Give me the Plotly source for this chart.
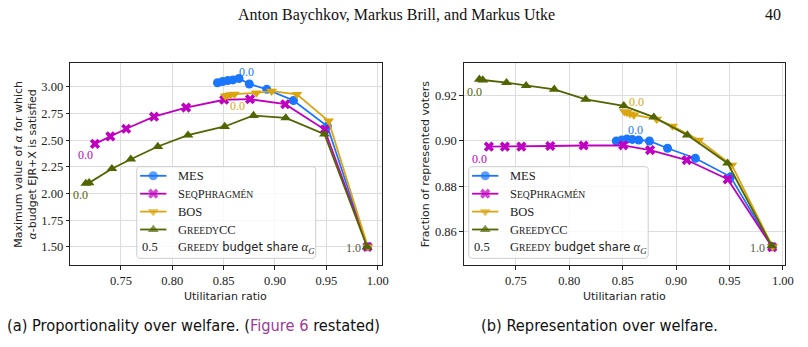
import numpy as np
import plotly.graph_objects as go

# ---------------- data ----------------
mes_x = [0.844, 0.849, 0.854, 0.859, 0.865, 0.875, 0.892, 0.918, 0.951, 0.990]
mes_ejr = [3.040, 3.051, 3.060, 3.066, 3.080, 3.028, 2.978, 2.873, 2.632, 1.50]
mes_rep = [0.9000, 0.9004, 0.9009, 0.9007, 0.9004, 0.9000, 0.8968, 0.8924, 0.8842, 0.8533]
mes_zero = 3

seq_x = [0.7247, 0.7397, 0.7551, 0.7822, 0.8134, 0.8505, 0.8757, 0.9100, 0.9483, 0.9900]
seq_ejr = [2.466, 2.536, 2.608, 2.721, 2.807, 2.880, 2.885, 2.838, 2.601, 1.50]
seq_rep = [0.8975, 0.8975, 0.8975, 0.8978, 0.8980, 0.8981, 0.8960, 0.8916, 0.8831, 0.8532]
seq_zero = 0

bos_x = [0.8516, 0.8540, 0.8570, 0.8605, 0.8818, 0.8967, 0.9213, 0.9522, 0.9904]
bos_ejr = [2.916, 2.922, 2.929, 2.932, 2.944, 2.960, 2.931, 2.681, 1.50]
bos_rep = [0.9129, 0.9126, 0.9120, 0.9115, 0.9096, 0.9066, 0.9004, 0.8894, 0.8533]
bos_zero = 0

gcc_x = [0.7158, 0.7190, 0.7412, 0.7596, 0.7859, 0.8153, 0.8510, 0.8791, 0.9105, 0.9482, 0.9896]
gcc_ejr = [2.095, 2.100, 2.233, 2.322, 2.441, 2.547, 2.629, 2.732, 2.709, 2.557, 1.50]
gcc_rep = [0.9272, 0.9269, 0.9257, 0.9244, 0.9228, 0.9184, 0.9155, 0.9105, 0.9026, 0.8902, 0.8537]
gcc_zero = 0

x_ticks = [0.75, 0.80, 0.85, 0.90, 0.95, 1.00]
x_ticklabels = ["0.75", "0.80", "0.85", "0.90", "0.95", "1.00"]
ejr_ticks = [1.50, 1.75, 2.00, 2.25, 2.50, 2.75, 3.00]
ejr_ticklabels = ["1.50", "1.75", "2.00", "2.25", "2.50", "2.75", "3.00"]
rep_ticks = [0.86, 0.88, 0.90, 0.92]
rep_ticklabels = ["0.86", "0.88", "0.90", "0.92"]

zero_label = "0.0"
one_label = "1.0"
share_example = "0.5"

# ---------------- styling ----------------
W, H = 808, 347
SERIF = "Liberation Serif, Times New Roman, serif"
SANS = "DejaVu Sans, sans-serif"
CAPTION = "Liberation Sans Narrow, DejaVu Sans Condensed, Liberation Sans, sans-serif"
TXT = "#222222"
GRID = "#dddddd"

C_MES = "#1a75ff"
C_SEQ = "#c000c0"
C_BOS = "#dba510"
C_GCC = "#516500"


def sc(big, small, size=9.6):
    return f'{big}<span style="font-size:{size}px">{small}</span>'


NAME_MES = "MES"
NAME_SEQ = sc("S", "EQ") + sc("P", "HRAGMÉN")
NAME_BOS = "BOS"
NAME_GCC = sc("G", "REEDY") + "CC"
NAME_SHARE = (sc("G", "REEDY") + ' <span style="font-family:DejaVu Sans;font-size:11.5px">budget share</span> '
              + "<i>α</i><sub><i>G</i></sub>")

series = [
    (NAME_MES, mes_x, mes_ejr, mes_rep, C_MES, "circle", 9, mes_zero),
    (NAME_SEQ, seq_x, seq_ejr, seq_rep, C_SEQ, "x", 9, seq_zero),
    (NAME_BOS, bos_x, bos_ejr, bos_rep, C_BOS, "triangle-down", 9.5, bos_zero),
    (NAME_GCC, gcc_x, gcc_ejr, gcc_rep, C_GCC, "triangle-up", 9.5, gcc_zero),
]

fig = go.Figure()
for name, xs, y1, y2, color, sym, size, z in series:
    for yy, xa, ya in ((y1, "x", "y"), (y2, "x2", "y2")):
        fig.add_trace(go.Scatter(
            x=xs, y=yy, xaxis=xa, yaxis=ya, mode="lines+markers", name=name,
            showlegend=False, line=dict(color=color, width=1.8),
            marker=dict(symbol=sym, size=size, color=color, line=dict(width=0)),
        ))


def px(v):
    return v / W


def py(v):
    return 1 - v / H


ydom = [py(265), py(63)]
axis_common = dict(
    showgrid=True, gridcolor=GRID, gridwidth=1, zeroline=False,
    showline=True, linecolor=TXT, linewidth=1, mirror=True,
    ticks="outside", ticklen=3.5, tickcolor=TXT, tickwidth=1,
    tickfont=dict(family=SERIF, size=12.5, color=TXT),
)
fig.update_layout(
    xaxis=dict(domain=[px(71), px(386)], range=[0.7006, 1.0039], anchor="y",
               tickvals=x_ticks, ticktext=x_ticklabels, **axis_common),
    yaxis=dict(domain=ydom, range=[1.329, 3.225], anchor="x",
               tickvals=ejr_ticks, ticktext=ejr_ticklabels, **axis_common),
    xaxis2=dict(domain=[px(469), px(794)], range=[0.7012, 1.0021], anchor="y2",
                tickvals=x_ticks, ticktext=x_ticklabels, **axis_common),
    yaxis2=dict(domain=ydom, range=[0.8453, 0.9344], anchor="x2",
                tickvals=rep_ticks, ticktext=rep_ticklabels, **axis_common),
    # overlay in page pixels, used for the legend boxes and their samples
    xaxis3=dict(domain=[0, 1], range=[0, W], visible=False, fixedrange=True, anchor="y3"),
    yaxis3=dict(domain=[0, 1], range=[H, 0], visible=False, fixedrange=True, anchor="x3"),
)

ann = []


def rounded_box(x0, y0, x1, y1, r=3.0):
    pts_x, pts_y = [], []
    corners = [(x1 - r, y0 + r, -90, 0), (x1 - r, y1 - r, 0, 90),
               (x0 + r, y1 - r, 90, 180), (x0 + r, y0 + r, 180, 270)]
    for cx, cy, a0, a1 in corners:
        for a in np.linspace(np.radians(a0), np.radians(a1), 5):
            pts_x.append(cx + r * np.cos(a))
            pts_y.append(cy + r * np.sin(a))
    pts_x.append(pts_x[0])
    pts_y.append(pts_y[0])
    return pts_x, pts_y


legend_boxes = [(138.3, 166.7, 319.3, 258.3), (474.0, 166.7, 655.5, 258.3)]
row_y0, row_dy = 175.8, 17.9
for bx0, by0, bx1, by1 in legend_boxes:
    bxs, bys = rounded_box(bx0, by0, bx1, by1)
    fig.add_trace(go.Scatter(x=bxs, y=bys, xaxis="x3", yaxis="y3", mode="lines", fill="toself",
                             fillcolor="rgba(255,255,255,0.82)", line=dict(color="#cccccc", width=1),
                             hoverinfo="skip", showlegend=False))
    h0, h1 = bx0 + 3.4, bx0 + 30.0
    tx = bx0 + 39.4
    for i, (name, xs, y1, y2, color, sym, size, z) in enumerate(series):
        ry = row_y0 + i * row_dy
        fig.add_trace(go.Scatter(x=[h0, (h0 + h1) / 2, h1], y=[ry, ry, ry], xaxis="x3", yaxis="y3",
                                 mode="lines+markers", line=dict(color=color, width=1.8),
                                 marker=dict(symbol=sym, size=[0, size, 0], color=color, line=dict(width=0)),
                                 hoverinfo="skip", showlegend=False))
        ann.append(dict(x=px(tx), y=py(ry), xref="paper", yref="paper", text=name, showarrow=False,
                        xanchor="left", yanchor="middle", font=dict(family=SERIF, size=12.5, color=TXT)))
    ry = row_y0 + 4 * row_dy
    ann.append(dict(x=px(h0 - 0.5), y=py(ry), xref="paper", yref="paper", text=share_example,
                    showarrow=False, xanchor="left", yanchor="middle",
                    font=dict(family=SERIF, size=12.5, color=TXT)))
    ann.append(dict(x=px(tx), y=py(ry + 1), xref="paper", yref="paper", text=NAME_SHARE,
                    showarrow=False, xanchor="left", yanchor="middle",
                    font=dict(family=SERIF, size=12.5, color=TXT)))

# "0.0" / "1.0" labels anchored to the alpha_G = 0 and alpha_G = 1 points
left_shifts = {NAME_MES: (13.5, 8), NAME_SEQ: (-9, -11), NAME_BOS: (12.5, -10), NAME_GCC: (-5, -12)}
right_shifts = {NAME_MES: (3.5, 9.5), NAME_SEQ: (-9.5, -12), NAME_BOS: (12.5, 10), NAME_GCC: (-5, -12.5)}
for name, xs, y1, y2, color, sym, size, z in series:
    for yy, xr, yr, shifts in ((y1, "x", "y", left_shifts), (y2, "x2", "y2", right_shifts)):
        dx, dy = shifts[name]
        ann.append(dict(x=xs[z], y=yy[z], xref=xr, yref=yr, text=zero_label, showarrow=False,
                        xshift=dx, yshift=dy, font=dict(family=SERIF, size=12, color=color)))
ann.append(dict(x=gcc_x[-1], y=gcc_ejr[-1], xref="x", yref="y", text=one_label, showarrow=False,
                xshift=-13.5, yshift=-1, font=dict(family=SERIF, size=12, color="#555a40")))
ann.append(dict(x=gcc_x[-1], y=gcc_rep[-1], xref="x2", yref="y2", text=one_label, showarrow=False,
                xshift=-14.5, yshift=-2, font=dict(family=SERIF, size=12, color="#555a40")))

# axis titles
ann.append(dict(x=px(228.5), y=py(296), xref="paper", yref="paper", text="Utilitarian ratio",
                showarrow=False, xanchor="center", yanchor="middle",
                font=dict(family=SANS, size=11, color=TXT)))
ann.append(dict(x=px(631.5), y=py(296), xref="paper", yref="paper", text="Utilitarian ratio",
                showarrow=False, xanchor="center", yanchor="middle",
                font=dict(family=SANS, size=11, color=TXT)))
ann.append(dict(x=px(25), y=py(164), xref="paper", yref="paper", textangle=-90,
                text="Maximum value of <i>α</i> for which<br><i>α</i>-budget EJR+X is satisfied",
                showarrow=False, xanchor="center", yanchor="middle",
                font=dict(family=SANS, size=11, color=TXT)))
ann.append(dict(x=px(430), y=py(164), xref="paper", yref="paper", textangle=-90,
                text="Fraction of represented voters",
                showarrow=False, xanchor="center", yanchor="middle",
                font=dict(family=SANS, size=11, color=TXT)))

# page header and captions
ann.append(dict(x=px(401), y=py(15), xref="paper", yref="paper",
                text="Anton Baychkov, Markus Brill, and Markus Utke", showarrow=False,
                xanchor="center", yanchor="middle", font=dict(family=SERIF, size=16, color="#111")))
ann.append(dict(x=px(792), y=py(15), xref="paper", yref="paper", text="40", showarrow=False,
                xanchor="right", yanchor="middle", font=dict(family=SERIF, size=16, color="#111")))
ann.append(dict(x=px(5), y=py(325), xref="paper", yref="paper",
                text='(a) Proportionality over welfare. (<span style="color:#9b3a98">Figure 6</span> restated)',
                showarrow=False, xanchor="left", yanchor="middle",
                font=dict(family=CAPTION, size=16.3, color="#111")))
ann.append(dict(x=px(484), y=py(325), xref="paper", yref="paper",
                text="(b) Representation over welfare.", showarrow=False,
                xanchor="left", yanchor="middle",
                font=dict(family=CAPTION, size=16.3, color="#111")))

fig.update_layout(
    annotations=ann, width=W, height=H, margin=dict(l=0, r=0, t=0, b=0),
    paper_bgcolor="white", plot_bgcolor="rgba(0,0,0,0)", showlegend=False,
)
fig.write_html("out.html")
